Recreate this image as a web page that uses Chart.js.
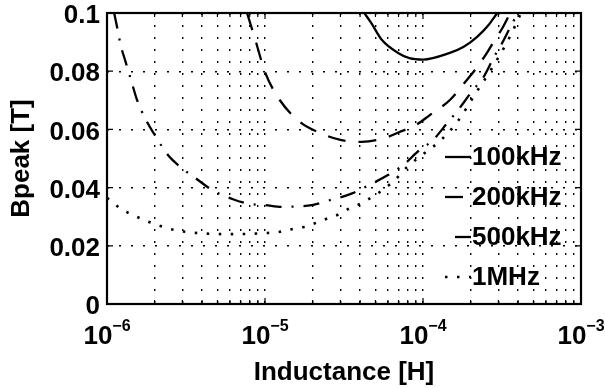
<!DOCTYPE html>
<html>
<head>
<meta charset="utf-8">
<script src="https://cdn.jsdelivr.net/npm/chart.js@4.4.1/dist/chart.umd.min.js"></script>
<style>
  body { margin: 0; background: #fff; }
  #wrap { width: 605px; height: 388px; }
</style>
</head>
<body>
<div id="wrap"><canvas id="bpeakChart" width="605" height="388"></canvas></div>
<script>
// values: inductance in H, peak flux density in T
const L100 = [4.25e-5, 4.7e-5, 5.5e-5, 7.0e-5, 8.2e-5, 1.0e-4, 1.48e-4, 1.8e-4, 2.2e-4, 2.6e-4, 2.95e-4];
const B100 = [0.100, 0.0966, 0.0907, 0.0862, 0.0845, 0.0840, 0.0863, 0.0883, 0.0918, 0.0959, 0.100];

const L200 = [7.7e-6, 8.2e-6, 8.8e-6, 1.0e-5, 1.24e-5, 1.67e-5, 2.23e-5, 3.0e-5, 4.1e-5, 5.7e-5,
              7.1e-5, 9.0e-5, 1.11e-4, 1.48e-4, 1.85e-4, 2.13e-4, 2.54e-4, 2.77e-4, 3.21e-4, 3.56e-4];
const B200 = [0.100, 0.0952, 0.0897, 0.0797, 0.0701, 0.0625, 0.0588, 0.0564, 0.0557, 0.0570,
              0.0591, 0.0615, 0.0650, 0.0701, 0.0763, 0.0804, 0.0863, 0.0897, 0.0952, 0.100];

const L500 = [1.11e-6, 1.18e-6, 1.22e-6, 1.31e-6, 1.44e-6, 1.55e-6, 1.79e-6, 2.01e-6, 2.43e-6, 2.90e-6,
              3.77e-6, 4.62e-6, 6.27e-6, 8.0e-6, 1.0e-5, 1.28e-5, 1.98e-5, 2.51e-5, 3.56e-5, 4.43e-5,
              6.0e-5, 7.36e-5, 9.57e-5, 1.14e-4, 1.44e-4, 1.67e-4, 2.07e-4, 2.40e-4, 2.86e-4, 3.07e-4,
              3.72e-4, 4.0e-4];
const B500 = [0.100, 0.0930, 0.0890, 0.0833, 0.0758, 0.0701, 0.0626, 0.0580, 0.0512, 0.0472,
              0.0426, 0.0392, 0.0360, 0.0344, 0.0340, 0.0334, 0.0340, 0.0355, 0.0380, 0.0405,
              0.0443, 0.0474, 0.0530, 0.0560, 0.0625, 0.0667, 0.0735, 0.0777, 0.0856, 0.0883,
              0.0970, 0.100];

const L1M = [1.0e-6, 1.08e-6, 1.24e-6, 1.46e-6, 1.71e-6, 2.43e-6, 2.90e-6, 3.5e-6, 6.0e-6, 1.03e-5,
             1.24e-5, 1.50e-5, 1.77e-5, 2.13e-5, 2.51e-5, 2.99e-5, 3.45e-5, 4.11e-5, 6.46e-5, 7.92e-5,
             1.03e-4, 1.28e-4, 1.67e-4, 2.13e-4, 2.73e-4, 3.56e-4, 4.17e-4];
const B1M = [0.0365, 0.0350, 0.0325, 0.0306, 0.0289, 0.0260, 0.0251, 0.0245, 0.0240, 0.0244,
             0.0248, 0.0258, 0.0265, 0.0280, 0.0295, 0.0310, 0.0330, 0.0347, 0.0420, 0.0470,
             0.0520, 0.0560, 0.0630, 0.0720, 0.0810, 0.0920, 0.100];

const seriesNames = ['100kHz', '200kHz', '500kHz', '1MHz'];
const xMajor = [1e-6, 1e-5, 1e-4, 1e-3];
const xExp = ['\u22126', '\u22125', '\u22124', '\u22123'];
const yTicks = [0, 0.02, 0.04, 0.06, 0.08, 0.1];
const yLabels = ['0', '0.02', '0.04', '0.06', '0.08', '0.1'];

const FONT = '"Liberation Sans", Arial, Helvetica, sans-serif';
const BIG = 'bold 26px ' + FONT;
const SMALL = 'bold 16px ' + FONT;
const pts = (xs, ys) => xs.map((x, i) => ({ x, y: ys[i] }));

const dashes = [[], [18, 13], [16, 10, 2, 10], [2.5, 9.5]];
const legendOffset = [0, 0, 28, 0];

// frame, inward ticks, tick labels and the legend
const decor = {
  id: 'decor',
  afterDraw(chart) {
    const { ctx, chartArea: a, scales: { x, y } } = chart;
    ctx.save();
    ctx.strokeStyle = '#000';
    ctx.fillStyle = '#000';
    ctx.setLineDash([]);

    ctx.lineWidth = 1.2;
    ctx.beginPath();
    x.ticks.forEach(t => {
      const px = x.getPixelForValue(t.value);
      const len = xMajor.includes(t.value) ? 6 : 4;
      ctx.moveTo(px, a.bottom); ctx.lineTo(px, a.bottom - len);
      ctx.moveTo(px, a.top); ctx.lineTo(px, a.top + len);
    });
    yTicks.forEach(v => {
      const py = y.getPixelForValue(v);
      ctx.moveTo(a.left, py); ctx.lineTo(a.left + 6, py);
      ctx.moveTo(a.right, py); ctx.lineTo(a.right - 6, py);
    });
    ctx.stroke();

    ctx.lineWidth = 2.2;
    ctx.strokeRect(a.left, a.top, a.right - a.left, a.bottom - a.top);

    // y tick labels
    ctx.font = BIG;
    ctx.textAlign = 'right';
    ctx.textBaseline = 'middle';
    yTicks.forEach((v, i) => ctx.fillText(yLabels[i], a.left - 7, y.getPixelForValue(v) + 3));

    // x tick labels: 10 with raised exponent
    ctx.textAlign = 'left';
    ctx.textBaseline = 'alphabetic';
    xMajor.forEach((v, i) => {
      ctx.font = BIG;
      const wb = ctx.measureText('10').width;
      ctx.font = SMALL;
      const we = ctx.measureText(xExp[i]).width;
      const x0 = x.getPixelForValue(v) - (wb + we) / 2;
      ctx.font = BIG;
      ctx.fillText('10', x0, 344);
      ctx.font = SMALL;
      ctx.fillText(xExp[i], x0 + wb, 331);
    });

    // legend inside the axes, no box
    chart.data.datasets.forEach((ds, i) => {
      const cy = 157 + i * 40;
      ctx.lineWidth = ds.borderWidth;
      ctx.setLineDash(ds.borderDash);
      ctx.lineDashOffset = legendOffset[i];
      ctx.beginPath();
      ctx.moveTo(445, cy); ctx.lineTo(471, cy);
      ctx.stroke();
      ctx.setLineDash([]);
      ctx.font = BIG;
      ctx.textBaseline = 'middle';
      ctx.fillText(ds.label, 472, cy + 1);
    });
    ctx.restore();
  }
};

new Chart(document.getElementById('bpeakChart'), {
  type: 'line',
  data: {
    datasets: [
      { label: seriesNames[0], data: pts(L100, B100) },
      { label: seriesNames[1], data: pts(L200, B200) },
      { label: seriesNames[2], data: pts(L500, B500) },
      { label: seriesNames[3], data: pts(L1M, B1M) }
    ].map((d, i) => Object.assign(d, {
      borderColor: '#000',
      borderWidth: i === 3 ? 2.6 : 2.3,
      borderDash: dashes[i],
      pointRadius: 0,
      fill: false,
      cubicInterpolationMode: 'monotone'
    }))
  },
  options: {
    responsive: false,
    animation: false,
    layout: { padding: { top: 13, right: 24, left: 0, bottom: 0 } },
    plugins: { legend: { display: false }, tooltip: { enabled: false } },
    scales: {
      x: {
        type: 'logarithmic',
        min: 1e-6,
        max: 1e-3,
        afterBuildTicks: s => {
          const t = [];
          for (let k = 0; k < xMajor.length - 1; k++)
            for (let j = 1; j < 10; j++) t.push({ value: j * xMajor[k] });
          t.push({ value: xMajor[xMajor.length - 1] });
          s.ticks = t;
        },
        afterFit: s => { s.height = 84; },
        ticks: { display: false },
        grid: { color: '#000', lineWidth: 1.4, drawTicks: false },
        border: { display: false, dash: [2, 10] },
        title: {
          display: true, text: 'Inductance [H]', color: '#000',
          font: { family: FONT, size: 26, weight: 'bold' }, padding: { top: 5, bottom: 0 }
        }
      },
      y: {
        min: 0,
        max: 0.1,
        afterBuildTicks: s => { s.ticks = yTicks.map(v => ({ value: v })); },
        afterFit: s => { s.width = 107; },
        ticks: { display: false },
        grid: { color: '#000', lineWidth: 1.4, drawTicks: false },
        border: { display: false, dash: [2, 10] },
        title: {
          display: true, text: 'Bpeak [T]', color: '#000',
          font: { family: FONT, size: 26, weight: 'bold' }, padding: { top: 6, bottom: 0 }
        }
      }
    }
  },
  plugins: [decor]
});
</script>
</body>
</html>
